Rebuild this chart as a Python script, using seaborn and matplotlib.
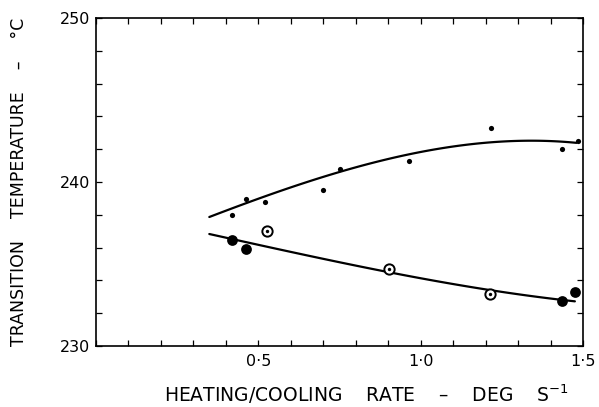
import matplotlib
matplotlib.use("Agg")
import matplotlib.pyplot as plt
import seaborn as sns
import numpy as np
import pandas as pd
from matplotlib.ticker import MultipleLocator, FixedLocator, FixedFormatter

# Heating points (small dots)
heat_x = [0.42, 0.463, 0.52, 0.70, 0.75, 0.963, 1.216, 1.435, 1.485]
heat_y = [238.0, 238.96, 238.8, 239.5, 240.8, 241.3, 243.3, 242.0, 242.5]

# Cooling points, filled circles
cool_fill_x = [0.42, 0.463, 1.434, 1.475]
cool_fill_y = [236.46, 235.93, 232.74, 233.3]
# Cooling points, ringed (bullseye)
cool_ring_x = [0.527, 0.904, 1.213]
cool_ring_y = [237.0, 234.68, 233.2]

# Drawn curves
upper_curve_x = [0.349, 0.555, 0.75, 0.966, 1.213, 1.316, 1.43, 1.48]
upper_curve_y = [237.87, 239.35, 240.63, 241.69, 242.4, 242.54, 242.44, 242.4]
lower_curve_x = [0.349, 0.42, 0.76, 0.904, 1.213, 1.475]
lower_curve_y = [236.85, 236.5, 234.98, 234.62, 233.35, 232.74]

x_tick_vals = [0.5, 1.0, 1.5]
x_tick_labels = ["0·5", "1·0", "1·5"]
y_tick_vals = [230, 240, 250]
y_tick_labels = ["230", "240", "250"]

sns.set_style("white")
plt.rcParams['font.family'] = ['DejaVu Sans']
plt.rcParams['text.color'] = 'black'
plt.rcParams['axes.labelcolor'] = 'black'
plt.rcParams['xtick.color'] = 'black'
plt.rcParams['ytick.color'] = 'black'
plt.rcParams['mathtext.default'] = 'regular'

fig = plt.figure(figsize=(5.99, 4.07), dpi=100)
ax = fig.add_axes([96/599, 1 - 346/407, (583-96)/599, (346-18)/407])

sns.regplot(x=upper_curve_x, y=upper_curve_y, order=3, ci=None, scatter=False,
            truncate=True, ax=ax, line_kws=dict(color="black", lw=1.6))
sns.regplot(x=lower_curve_x, y=lower_curve_y, order=3, ci=None, scatter=False,
            truncate=True, ax=ax, line_kws=dict(color="black", lw=1.6))

sns.scatterplot(x=heat_x, y=heat_y, ax=ax, color="black", s=14, linewidth=0, zorder=5)
sns.scatterplot(x=cool_fill_x, y=cool_fill_y, ax=ax, color="black", s=60,
                linewidth=0, zorder=5)
sns.scatterplot(x=cool_ring_x, y=cool_ring_y, ax=ax, facecolor="white", edgecolor="black",
                s=55, linewidth=1.4, zorder=5)
sns.scatterplot(x=cool_ring_x, y=cool_ring_y, ax=ax, color="black", s=6,
                linewidth=0, zorder=6)

ax.set_xlim(0, 1.5)
ax.set_ylim(230, 250)

ax.xaxis.set_major_locator(FixedLocator(x_tick_vals))
ax.xaxis.set_major_formatter(FixedFormatter(x_tick_labels))
ax.xaxis.set_minor_locator(MultipleLocator(0.1))
ax.yaxis.set_major_locator(FixedLocator(y_tick_vals))
ax.yaxis.set_major_formatter(FixedFormatter(y_tick_labels))
ax.yaxis.set_minor_locator(MultipleLocator(2))

ax.tick_params(which="both", direction="in", top=True, right=True, bottom=True, left=True,
               length=4, width=0.9, color="black")
ax.tick_params(axis="both", which="major", labelsize=11.5, pad=4)
ax.tick_params(axis="x", which="major", pad=6)

for s in ax.spines.values():
    s.set_visible(True)
    s.set_color("black")
    s.set_linewidth(1.2)

ax.set_xlabel("HEATING/COOLING    RATE    –    DEG    S$^{-1}$", fontsize=13.5)
ax.xaxis.set_label_coords(0.556, -0.147)
ax.xaxis.label.set_va("center")
ax.set_ylabel("TRANSITION    TEMPERATURE    –    °C", fontsize=12.5)
ax.yaxis.set_label_coords(-0.158, 0.5)
ax.yaxis.label.set_va("center")

fig.savefig("out.png", dpi=100)
